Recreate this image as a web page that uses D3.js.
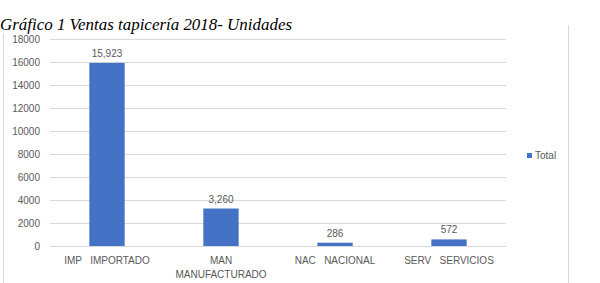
<!DOCTYPE html>
<html>
<head>
<meta charset="utf-8">
<script src="https://cdn.jsdelivr.net/npm/d3@7"></script>
<style>
  body { margin: 0; background: #fff; }
  text { font-family: "Liberation Sans", "Noto Sans", sans-serif; }
</style>
</head>
<body>
<svg id="chart"></svg>
<script>
// chart data
const categories = ['IMP   IMPORTADO', 'MAN   MANUFACTURADO', 'NAC   NACIONAL', 'SERV   SERVICIOS'];
const categoryLines = [['IMP   IMPORTADO'], ['MAN', 'MANUFACTURADO'], ['NAC   NACIONAL'], ['SERV   SERVICIOS']];
const totals = [15923, 3260, 286, 572];
const yTicks = [0, 2000, 4000, 6000, 8000, 10000, 12000, 14000, 16000, 18000];
const seriesName = 'Total';
const title = 'Gráfico 1 Ventas tapicería 2018- Unidades';

const width = 600;
const height = 283;
const barColor = '#4472c4';
const textColor = '#595959';
const gridColor = '#d9d9d9';

const svg = d3.select('#chart')
    .attr('width', width)
    .attr('height', height);

// frame lines of the pasted chart
svg.append('line')
    .attr('x1', 3.5).attr('x2', 3.5)
    .attr('y1', 33).attr('y2', height)
    .attr('stroke', gridColor);
svg.append('line')
    .attr('x1', 568.5).attr('x2', 568.5)
    .attr('y1', 25).attr('y2', height)
    .attr('stroke', gridColor);

// title
svg.append('text')
    .attr('x', 0)
    .attr('y', 30)
    .attr('textLength', 292)
    .attr('lengthAdjust', 'spacingAndGlyphs')
    .style('font-family', '"Liberation Serif", "DejaVu Serif", serif')
    .style('font-style', 'italic')
    .style('font-size', '16px')
    .attr('fill', '#000')
    .text(title);

// scales
const x = d3.scaleBand()
    .domain(categories)
    .range([50, 506])
    .paddingInner(0.69)
    .paddingOuter(0.345);

const y = d3.scaleLinear()
    .domain([0, 18000])
    .range([246, 39]);

// gridlines
svg.append('g')
    .selectAll('line')
    .data(yTicks)
    .join('line')
    .attr('x1', 50)
    .attr('x2', 506)
    .attr('y1', d => Math.round(y(d)) + 0.5)
    .attr('y2', d => Math.round(y(d)) + 0.5)
    .attr('stroke', gridColor)
    .attr('stroke-width', 1);

// y axis labels
svg.append('g')
    .selectAll('text')
    .data(yTicks)
    .join('text')
    .attr('x', 40)
    .attr('y', d => y(d))
    .attr('dy', '0.35em')
    .attr('text-anchor', 'end')
    .style('font-size', '10px')
    .attr('fill', textColor)
    .text(d => d);

// bars
svg.append('g')
    .selectAll('rect')
    .data(totals)
    .join('rect')
    .attr('x', (d, i) => x(categories[i]))
    .attr('y', d => y(d))
    .attr('width', x.bandwidth())
    .attr('height', d => y(0) - y(d))
    .attr('fill', barColor);

// value labels
svg.append('g')
    .selectAll('text')
    .data(totals)
    .join('text')
    .attr('x', (d, i) => x(categories[i]) + x.bandwidth() / 2)
    .attr('y', d => y(d) - 6)
    .attr('text-anchor', 'middle')
    .style('font-size', '10px')
    .attr('fill', textColor)
    .text(d => d3.format(',')(d));

// category labels
const catLabel = svg.append('g')
    .selectAll('text')
    .data(categories)
    .join('text')
    .attr('x', d => x(d) + x.bandwidth() / 2)
    .attr('y', 264)
    .attr('text-anchor', 'middle')
    .style('font-size', '10px')
    .style('white-space', 'pre')
    .attr('fill', textColor);

catLabel.selectAll('tspan')
    .data((d, i) => categoryLines[i])
    .join('tspan')
    .attr('x', function() { return this.parentNode.getAttribute('x'); })
    .attr('dy', (d, i) => i === 0 ? 0 : 14)
    .text(d => d);

// legend
svg.append('rect')
    .attr('x', 527)
    .attr('y', 153)
    .attr('width', 5)
    .attr('height', 5)
    .attr('fill', barColor);
svg.append('text')
    .attr('x', 535)
    .attr('y', 159)
    .style('font-size', '10px')
    .attr('fill', textColor)
    .text(seriesName);
</script>
</body>
</html>
